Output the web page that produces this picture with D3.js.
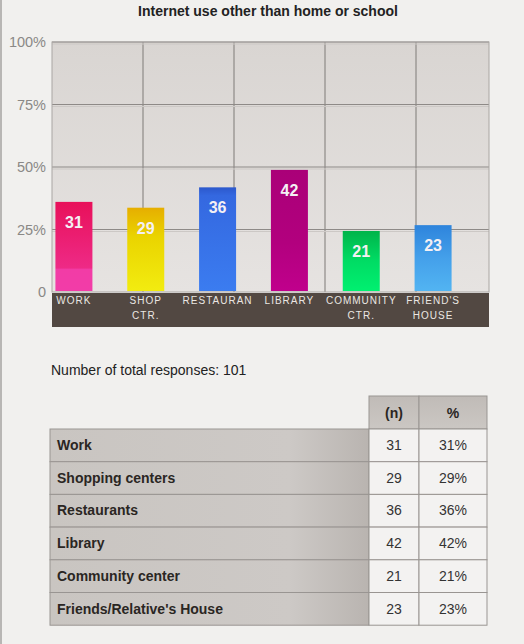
<!DOCTYPE html>
<html>
<head>
<meta charset="utf-8">
<script src="https://cdn.jsdelivr.net/npm/d3@7"></script>
<style>
  html, body { margin: 0; padding: 0; background: #f1f0ee; }
  svg { display: block; font-family: "Liberation Sans", Arial, sans-serif; }
</style>
</head>
<body>
<div id="chart"></div>
<script>
const categories = ["Work", "Shop ctr.", "Restaurant", "Library", "Community ctr.", "Friend's house"];
const axisLabels = [["WORK"], ["SHOP", "CTR."], ["RESTAURAN"], ["LIBRARY"], ["COMMUNITY", "CTR."], ["FRIEND'S", "HOUSE"]];
const counts = [31, 29, 36, 42, 21, 23];
const percents = [31, 29, 36, 42, 21, 23];
const tableLabels = ["Work", "Shopping centers", "Restaurants", "Library", "Community center", "Friends/Relative's House"];
const yTicks = [0, 25, 50, 75, 100];
const totalResponses = 101;

// gradient stops per bar: [offset, colour]
const barColors = [
  [[0, "#e8105a"], [0.74, "#ee2a86"], [0.76, "#f23ca6"], [1, "#f23ca8"]],
  [[0, "#e6ae00"], [0.35, "#ead400"], [1, "#f2ec10"]],
  [[0, "#2c58cc"], [0.08, "#3468e0"], [1, "#3b7cf0"]],
  [[0, "#aa0078"], [0.6, "#b2007e"], [1, "#c0008c"]],
  [[0, "#00b44a"], [0.5, "#00dc64"], [1, "#00f070"]],
  [[0, "#2e84dc"], [0.5, "#44a0ea"], [1, "#52b4f2"]]
];

const width = 524, height = 644;
const plotLeft = 52, plotRight = 489, plotTop = 42, base = 292, stripBottom = 327;

const svg = d3.select("#chart").append("svg")
  .attr("width", width)
  .attr("height", height);

const defs = svg.append("defs");

// page
svg.append("rect").attr("width", width).attr("height", height).attr("fill", "#f1f0ee");
svg.append("line").attr("x1", 1).attr("x2", 1).attr("y1", 0).attr("y2", height)
  .attr("stroke", "#b8b6b4").attr("stroke-width", 2);

// title
svg.append("text")
  .attr("x", 268).attr("y", 16)
  .attr("text-anchor", "middle")
  .attr("font-size", 14).attr("font-weight", "bold")
  .attr("fill", "#222")
  .text("Internet use other than home or school");

// plot background
const bgGrad = defs.append("linearGradient").attr("id", "bg").attr("x1", 0).attr("y1", 0).attr("x2", 0).attr("y2", 1);
bgGrad.append("stop").attr("offset", "0%").attr("stop-color", "#d9d5d2");
bgGrad.append("stop").attr("offset", "100%").attr("stop-color", "#e6e3e1");
svg.append("rect")
  .attr("x", plotLeft).attr("y", plotTop)
  .attr("width", plotRight - plotLeft).attr("height", base - plotTop)
  .attr("fill", "url(#bg)");

// scales
const x = d3.scaleBand()
  .domain(categories)
  .range([38, 469])
  .paddingInner(0.485)
  .paddingOuter(0.2425);

const axisMax = 86;
const y = d3.scaleLinear().domain([0, axisMax]).range([base, plotTop]);
const yPct = d3.scaleLinear().domain([0, 100]).range([base, plotTop]);

// grid
const colW = 91;
svg.append("g").selectAll("line")
  .data(d3.range(1, 5))
  .join("line")
  .attr("x1", i => plotLeft + i * colW).attr("x2", i => plotLeft + i * colW)
  .attr("y1", plotTop).attr("y2", base)
  .attr("stroke", "#8e8a87").attr("stroke-width", 1.2);

const hGrid = svg.append("g").selectAll("g")
  .data(yTicks.filter(d => d > 0))
  .join("g");
hGrid.append("line")
  .attr("x1", plotLeft).attr("x2", plotRight)
  .attr("y1", d => yPct(d)).attr("y2", d => yPct(d))
  .attr("stroke", "#8e8a87").attr("stroke-width", 1.2);
hGrid.append("line")
  .attr("x1", plotLeft).attr("x2", plotRight)
  .attr("y1", d => yPct(d) + 2).attr("y2", d => yPct(d) + 2)
  .attr("stroke", "#ccc8c5").attr("stroke-width", 1);

svg.append("rect")
  .attr("x", plotLeft).attr("y", plotTop)
  .attr("width", plotRight - plotLeft).attr("height", base - plotTop)
  .attr("fill", "none").attr("stroke", "#aaa6a3").attr("stroke-width", 1);

// y axis
const yAxis = svg.append("g")
  .attr("transform", `translate(${plotLeft - 6},0)`)
  .call(d3.axisLeft(yPct).tickValues(yTicks).tickSize(0).tickPadding(0)
    .tickFormat(d => d === 0 ? "0" : d + "%"));
yAxis.select(".domain").remove();
yAxis.selectAll("text")
  .attr("font-family", "Liberation Sans, Arial, sans-serif")
  .attr("font-size", 14.5)
  .attr("fill", "#8a8886");

// bars
barColors.forEach((stops, i) => {
  const g = defs.append("linearGradient").attr("id", "bar" + i)
    .attr("x1", 0).attr("y1", 0).attr("x2", 0).attr("y2", 1);
  g.selectAll("stop").data(stops).join("stop")
    .attr("offset", d => d[0])
    .attr("stop-color", d => d[1]);
});

svg.append("g").selectAll("rect")
  .data(counts)
  .join("rect")
  .attr("x", (d, i) => x(categories[i]))
  .attr("y", d => y(d))
  .attr("width", x.bandwidth())
  .attr("height", d => y(0) - y(d) - 1)
  .attr("fill", (d, i) => `url(#bar${i})`);

svg.append("g").selectAll("text")
  .data(counts)
  .join("text")
  .attr("x", (d, i) => x(categories[i]) + x.bandwidth() / 2)
  .attr("y", d => y(d) + 26)
  .attr("text-anchor", "middle")
  .attr("font-size", 16).attr("font-weight", "bold")
  .attr("fill", "#f4f0f4")
  .text(d => d);

// category strip
svg.append("rect")
  .attr("x", plotLeft).attr("y", base + 1)
  .attr("width", plotRight - plotLeft).attr("height", stripBottom - base - 1)
  .attr("fill", "#524842");

const labels = svg.append("g").selectAll("text")
  .data(axisLabels)
  .join("text")
  .attr("x", (d, i) => x(categories[i]) + x.bandwidth() / 2)
  .attr("y", base + 12)
  .attr("text-anchor", "middle")
  .attr("font-size", 10)
  .attr("letter-spacing", 1)
  .attr("fill", "#ebe7e3");
labels.selectAll("tspan")
  .data(d => d)
  .join("tspan")
  .attr("x", function () { return d3.select(this.parentNode).attr("x"); })
  .attr("dy", (d, j) => j === 0 ? 0 : 15)
  .text(d => d);

// total
svg.append("text")
  .attr("x", 51).attr("y", 375)
  .attr("font-size", 14)
  .attr("fill", "#222")
  .text("Number of total responses: " + totalResponses);

// table
const colX = [50, 369, 419, 487];
const headTop = 396, headH = 33, rowH = 32.7;
const rowTop = headTop + headH;

const labGrad = defs.append("linearGradient").attr("id", "lab").attr("x1", 0).attr("y1", 0).attr("x2", 1).attr("y2", 0);
labGrad.append("stop").attr("offset", "0%").attr("stop-color", "#c9c5c1");
labGrad.append("stop").attr("offset", "75%").attr("stop-color", "#cdc9c6");
labGrad.append("stop").attr("offset", "100%").attr("stop-color", "#b9b4b0");

const headGrad = defs.append("linearGradient").attr("id", "head").attr("x1", 0).attr("y1", 0).attr("x2", 0).attr("y2", 1);
headGrad.append("stop").attr("offset", "0%").attr("stop-color", "#c0bbb7");
headGrad.append("stop").attr("offset", "100%").attr("stop-color", "#cbc7c3");

const table = svg.append("g");
const border = "#999592";

["(n)", "%"].forEach((h, k) => {
  table.append("rect")
    .attr("x", colX[k + 1]).attr("y", headTop)
    .attr("width", colX[k + 2] - colX[k + 1]).attr("height", headH)
    .attr("fill", "url(#head)").attr("stroke", border);
  table.append("text")
    .attr("x", (colX[k + 1] + colX[k + 2]) / 2).attr("y", headTop + 22)
    .attr("text-anchor", "middle")
    .attr("font-size", 14).attr("font-weight", "bold")
    .attr("fill", "#2a2623")
    .text(h);
});

const rows = table.selectAll("g.row")
  .data(tableLabels)
  .join("g")
  .attr("class", "row")
  .attr("transform", (d, i) => `translate(0,${rowTop + i * rowH})`);

rows.append("rect")
  .attr("x", colX[0]).attr("width", colX[1] - colX[0]).attr("height", rowH)
  .attr("fill", "url(#lab)").attr("stroke", border);
rows.append("rect")
  .attr("x", colX[1]).attr("width", colX[2] - colX[1]).attr("height", rowH)
  .attr("fill", "#f3f2f1").attr("stroke", border);
rows.append("rect")
  .attr("x", colX[2]).attr("width", colX[3] - colX[2]).attr("height", rowH)
  .attr("fill", "#f3f2f1").attr("stroke", border);

rows.append("text")
  .attr("x", colX[0] + 7).attr("y", 21)
  .attr("font-size", 14).attr("font-weight", "bold")
  .attr("fill", "#2a2623")
  .text(d => d);
rows.append("text")
  .attr("x", (colX[1] + colX[2]) / 2).attr("y", 21)
  .attr("text-anchor", "middle")
  .attr("font-size", 14)
  .attr("fill", "#333")
  .text((d, i) => counts[i]);
rows.append("text")
  .attr("x", (colX[2] + colX[3]) / 2).attr("y", 21)
  .attr("text-anchor", "middle")
  .attr("font-size", 14)
  .attr("fill", "#333")
  .text((d, i) => percents[i] + "%");
</script>
</body>
</html>
